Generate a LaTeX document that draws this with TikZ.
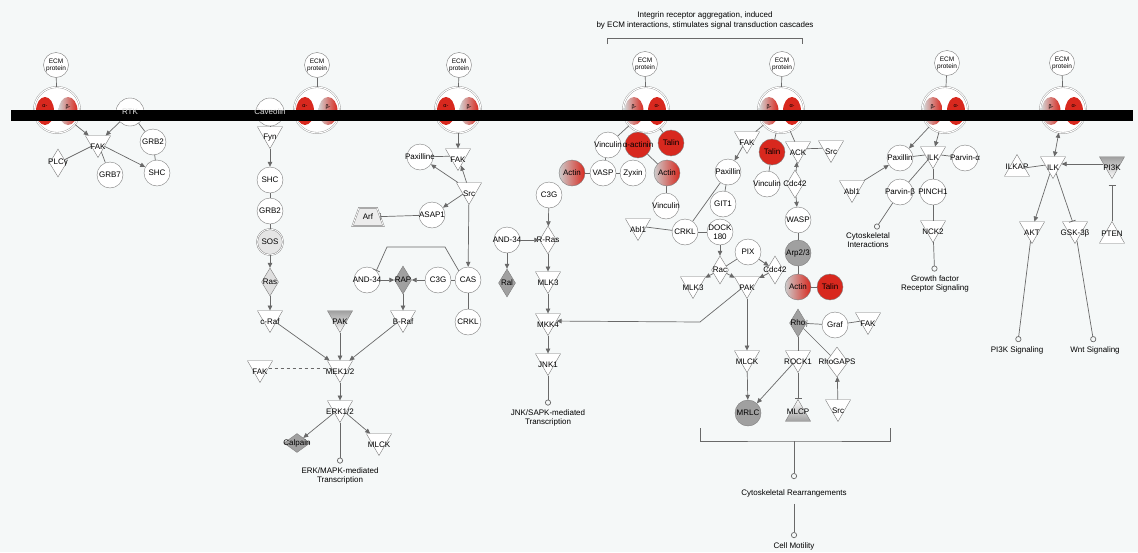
\documentclass[tikz,border=0pt]{standalone}
\usepackage{fontspec}
\setmainfont{Liberation Sans}
\usetikzlibrary{shapes.geometric,arrows.meta}
\definecolor{bgcol}{RGB}{245,248,248}
\definecolor{nodegray}{RGB}{125,125,125}
\definecolor{edgegray}{RGB}{105,105,105}
\definecolor{fillgray}{RGB}{160,160,160}
\definecolor{intred}{RGB}{216,40,30}
\tikzset{
  txt/.style={font=\fontsize{8}{9}\selectfont, inner sep=0pt, align=center},
  every label/.style={txt},
  prot/.style={circle, draw=nodegray, fill=white, minimum size=26pt, inner sep=0pt, label=center:#1},
  grayprot/.style={prot=#1, fill=fillgray},
  redprot/.style={prot=#1, fill=intred},
  mixprot/.style={prot=#1, left color=gray!40, right color=intred},
  memprot/.style={circle, draw=nodegray, fill=white, minimum size=28pt, inner sep=0pt},
  ecm/.style={circle, draw=nodegray, fill=white, minimum size=25pt, inner sep=0pt, font=\fontsize{6.5}{7}\selectfont, align=center},
  cplx/.style={circle, draw=nodegray!80, double=white, double distance=1pt, fill=white, minimum size=46pt, inner sep=0pt},
  alphaint/.style={ellipse, fill=intred, minimum width=18pt, minimum height=28pt, inner sep=0pt},
  betaint/.style={ellipse, left color=gray!35, right color=intred, minimum width=19pt, minimum height=28pt, inner sep=0pt},
  inttxt/.style={font=\fontsize{5.5}{8}\selectfont, inner sep=0pt, align=center},
  kinase/.style={regular polygon, regular polygon sides=3, shape border rotate=180, draw=nodegray, fill=white, minimum size=29pt, inner sep=0pt, label={[yshift=-4pt]center:#1}},
  upkin/.style={regular polygon, regular polygon sides=3, draw=nodegray, fill=white, minimum size=29pt, inner sep=0pt, label={[yshift=2pt]center:#1}},
  gtpase/.style={diamond, draw=nodegray, fill=white, minimum width=17pt, minimum height=28pt, inner sep=0pt, label=center:#1},
  transp/.style={trapezium, trapezium left angle=70, trapezium right angle=70, draw=nodegray, double=white, double distance=0.8pt, fill=gray!15, minimum width=22pt, minimum height=18pt, inner sep=2pt, label=center:#1},
  bond/.style={draw=edgegray, line width=0.7pt},
  act/.style={bond, -{Triangle[length=5pt,width=4.5pt]}},
  dual/.style={bond, {Triangle[length=5pt,width=4.5pt]}-{Triangle[length=5pt,width=4.5pt]}},
  inhib/.style={bond, -{Bar[width=7pt]}},
  leads/.style={bond, -{Circle[open,length=6pt,width=6pt]}, shorten >=4pt},
}
\begin{document}
\begin{tikzpicture}[x=1pt, y=-1pt]
    \fill[bgcol] (0,0) rectangle (1138,552);
    \useasboundingbox (0,0) rectangle (1138,552);

    \node[txt, font=\fontsize{8}{10}\selectfont] (header) at (705,20) {Integrin receptor aggregation, induced\\by ECM interactions, stimulates signal transduction cascades};
    \coordinate (hbl) at (607,44);
    \coordinate (hbr) at (802,44);
    \draw[bond] (hbl) -- ++(0,-6) -| (hbr);

    \node[ecm] (ecm1) at (56,65) {ECM\\protein};
    \node[ecm] (ecm2) at (317,65) {ECM\\protein};
    \node[ecm] (ecm3) at (459,65) {ECM\\protein};
    \node[ecm] (ecm4) at (645,64) {ECM\\protein};
    \node[ecm] (ecm5) at (782,64) {ECM\\protein};
    \node[ecm] (ecm6) at (947,63) {ECM\\protein};
    \node[ecm] (ecm7) at (1062,63) {ECM\\protein};

    \node[cplx] (int1) at (57,110) {};
    \node[cplx] (int2) at (317,110) {};
    \node[cplx] (int3) at (458,110) {};
    \node[cplx] (int4) at (646,110) {};
    \node[cplx] (int5) at (781,110) {};
    \node[cplx] (int6) at (945,110) {};
    \node[cplx] (int7) at (1063,110) {};
    \node[alphaint] (int1a) at (45,111) {};
    \node[betaint] (int1b) at (68,111) {};
    \node[alphaint] (int2a) at (305,111) {};
    \node[betaint] (int2b) at (328,111) {};
    \node[alphaint] (int3a) at (446,111) {};
    \node[betaint] (int3b) at (469,111) {};
    \node[betaint] (int4b) at (634,111) {};
    \node[alphaint] (int4a) at (657,111) {};
    \node[betaint] (int5b) at (769,111) {};
    \node[alphaint] (int5a) at (792,111) {};
    \node[betaint] (int6b) at (933,111) {};
    \node[alphaint] (int6a) at (956,111) {};
    \node[betaint] (int7b) at (1051,111) {};
    \node[alphaint] (int7a) at (1074,111) {};
    \draw[bond] (ecm1) -- (int1);
    \draw[bond] (ecm2) -- (int2);
    \draw[bond] (ecm3) -- (int3);
    \draw[bond] (ecm4) -- (int4);
    \draw[bond] (ecm5) -- (int5);
    \draw[bond] (ecm6) -- (int6);
    \draw[bond] (ecm7) -- (int7);

    \node[memprot] (rtk) at (130,112) {};
    \node[memprot] (cav) at (270,112) {};

    \fill[black] (11,109.5) rectangle (1133,120.5);

    \node[inttxt] (int1at) at (int1a) {α-\\integrin};
    \node[inttxt] (int1bt) at (int1b) {β-\\integrin};
    \node[inttxt] (int2at) at (int2a) {α-\\integrin};
    \node[inttxt] (int2bt) at (int2b) {β-\\integrin};
    \node[inttxt] (int3at) at (int3a) {α-\\integrin};
    \node[inttxt] (int3bt) at (int3b) {β-\\integrin};
    \node[inttxt] (int4bt) at (int4b) {β-\\integrin};
    \node[inttxt] (int4at) at (int4a) {α-\\integrin};
    \node[inttxt] (int5bt) at (int5b) {β-\\integrin};
    \node[inttxt] (int5at) at (int5a) {α-\\integrin};
    \node[inttxt] (int6bt) at (int6b) {β-\\integrin};
    \node[inttxt] (int6at) at (int6a) {α-\\integrin};
    \node[inttxt] (int7bt) at (int7b) {β-\\integrin};
    \node[inttxt] (int7at) at (int7a) {α-\\integrin};
    \node[txt, text=gray!25] (rtkt) at (rtk) {RTK};
    \node[txt, text=gray!25] (cavt) at (cav) {Caveolin};

    \node[kinase=FAK] (fak1) at (98,143) {};
    \node[gtpase=PLCγ] (plcg) at (58,163) {};
    \node[prot=GRB2] (grb2a) at (153,142) {};
    \node[prot=SHC] (shc1) at (157,173) {};
    \node[prot=GRB7] (grb7) at (110,175) {};

    \node[kinase=Fyn] (fyn) at (270,134) {};
    \node[prot=SHC] (shc2) at (270,180) {};
    \node[prot=GRB2] (grb2b) at (270,211) {};
    \node[prot=SOS, fill=gray!20, double=white, double distance=0.8pt] (sos) at (270,242) {};
    \node[gtpase=Ras, fill=gray!25] (ras) at (270,282) {};
    \node[kinase=c-Raf] (craf) at (270,318) {};
    \node[kinase=FAK] (fak2) at (260,368) {};
    \node[kinase=MEK1/2] (mek) at (340,368) {};
    \node[kinase=PAK, top color=fillgray, bottom color=white] (pak1) at (340,318) {};
    \node[kinase=B-Raf] (braf) at (403,318) {};
    \node[kinase=ERK1/2] (erk) at (340,408) {};
    \node[gtpase=Calpain, fill=fillgray, minimum width=26pt, minimum height=19pt] (calpain) at (297,443) {};
    \node[kinase=MLCK] (mlck1) at (379,441) {};
    \node[txt] (erktxt) at (340,476) {ERK/MAPK-mediated\\Transcription};

    \node[kinase=FAK] (fak3) at (458,156) {};
    \node[prot=Paxilline] (pax1) at (420,157) {};
    \node[kinase=Src] (src1) at (469,190) {};
    \node[prot=ASAP1] (asap) at (432,215) {};
    \node[transp=Arf] (arf) at (368,217) {};
    \node[prot=CAS] (cas) at (468,280) {};
    \node[prot=C3G] (c3g1) at (438,280) {};
    \node[gtpase=RAP, fill=fillgray] (rap) at (403,280) {};
    \node[prot=AND-34] (and1) at (367,280) {};
    \node[prot=CRKL] (crkl1) at (468,322) {};
    \coordinate (casup) at (445,247);
    \coordinate (casleft) at (387,247);

    \node[prot=C3G] (c3g2) at (549,195) {};
    \node[gtpase=R-Ras] (rras) at (548,240) {};
    \node[prot=AND-34] (and2) at (507,240) {};
    \node[gtpase=Ral, fill=fillgray] (ral) at (507,283) {};
    \node[kinase=MLK3] (mlk3a) at (548,279) {};
    \node[kinase=MKK4] (mkk4) at (548,321) {};
    \node[kinase=JNK1] (jnk1) at (548,361) {};
    \node[txt] (jnktxt) at (548,418) {JNK/SAPK-mediated\\Transcription};

    \node[prot=Vinculin] (vinc1) at (608,145) {};
    \node[redprot=α-actinin] (actn) at (638,145) {};
    \node[redprot=Talin] (talin1) at (671,143) {};
    \node[mixprot=Actin] (actin1) at (572,173) {};
    \node[prot=VASP] (vasp) at (603,173) {};
    \node[prot=Zyxin] (zyx) at (633,173) {};
    \node[mixprot=Actin] (actin2) at (667,173) {};
    \node[prot=Vinculin] (vinc2) at (666,206) {};

    \node[kinase=FAK] (fak4) at (747,139) {};
    \node[redprot=Talin] (talin2) at (772,152) {};
    \node[kinase=ACK] (ack) at (798,149) {};
    \node[kinase=Src] (src2) at (831,148) {};
    \node[prot=Paxillin] (pax2) at (728,172) {};
    \node[prot=Vinculin] (vinc3) at (767,184) {};
    \node[gtpase=Cdc42] (cdc42a) at (795,184) {};
    \node[prot=WASP] (wasp) at (798,220) {};
    \node[grayprot=Arp2/3] (arp) at (798,253) {};
    \node[mixprot=Actin] (actin3) at (798,287) {};
    \node[redprot=Talin] (talin3) at (830,287) {};
    \node[prot=GIT1] (git1) at (723,204) {};
    \node[kinase=Abl1] (abl1a) at (638,226) {};
    \node[prot=CRKL] (crkl2) at (685,232) {};
    \node[prot=DOCK\\180] (dock) at (720,232) {};
    \node[prot=PIX] (pix) at (748,252) {};
    \node[gtpase=Rac] (rac) at (720,270) {};
    \node[gtpase=Cdc42] (cdc42b) at (775,270) {};
    \node[kinase=MLK3] (mlk3b) at (693,284) {};
    \node[kinase=PAK] (pak2) at (747,284) {};
    \coordinate (pakbend) at (700,322);
    \node[gtpase=Rho, fill=fillgray] (rho) at (798,323) {};
    \node[prot=Graf] (graf) at (835,325) {};
    \node[kinase=FAK] (fak5) at (868,320) {};
    \node[kinase=MLCK] (mlck2) at (747,358) {};
    \node[kinase=ROCK1] (rock1) at (798,358) {};
    \node[gtpase=RhoGAPS, minimum width=22pt, minimum height=30pt] (rhogap) at (837,362) {};
    \node[grayprot=MRLC] (mrlc) at (748,413) {};
    \node[upkin=MLCP, top color=white, bottom color=fillgray] (mlcp) at (798,414) {};
    \node[kinase=Src] (src3) at (838,407) {};
    \coordinate (brl) at (700,428);
    \coordinate (brr) at (890,428);
    \coordinate (brm) at (794,441);
    \node[txt] (cytorearr) at (794,493) {Cytoskeletal Rearrangements};
    \node[txt] (cellmot) at (794,546) {Cell Motility};

    \node[prot=Paxillin] (pax3) at (900,158) {};
    \node[kinase=ILK] (ilk1) at (933,154) {};
    \node[prot=Parvin-α] (parva) at (965,158) {};
    \node[kinase=Abl1] (abl1b) at (852,188) {};
    \node[prot=Parvin-β] (parvb) at (900,192) {};
    \node[prot=PINCH1] (pinch) at (933,192) {};
    \node[kinase=NCK2] (nck2) at (933,228) {};
    \node[txt] (cytoint) at (868,240) {Cytoskeletal\\Interactions};
    \node[txt] (gftxt) at (935,284) {Growth factor\\Receptor Signaling};

    \node[upkin=ILKAP] (ilkap) at (1017,169) {};
    \node[kinase=ILK] (ilk2) at (1053,164) {};
    \node[kinase=PI3K, top color=fillgray, bottom color=white] (pi3k) at (1112,164) {};
    \node[kinase=AKT] (akt) at (1032,229) {};
    \node[kinase=GSK-3β] (gsk) at (1075,229) {};
    \node[upkin=PTEN] (pten) at (1112,236) {};
    \node[txt] (pi3ktxt) at (1017,350) {PI3K Signaling};
    \node[txt] (wnttxt) at (1095,350) {Wnt Signaling};

    \draw[act] (int1) -- (fak1);
    \draw[act] (rtk) -- (fak1);
    \draw[bond] (rtk) -- (grb2a);
    \draw[bond] (fak1) -- (plcg);
    \draw[bond] (fak1) -- (grb7);
    \draw[act] (fak1) -- (shc1);
    \draw[bond] (grb2a) -- (shc1);

    \draw[bond] (cav) -- (fyn);
    \draw[act] (fyn) -- (shc2);
    \draw[bond] (shc2) -- (grb2b);
    \draw[bond] (grb2b) -- (sos);
    \draw[act] (sos) -- (ras);
    \draw[act] (ras) -- (craf);
    \draw[act] (craf) -- (mek);
    \draw[act] (pak1) -- (mek);
    \draw[act] (braf) -- (mek);
    \draw[bond, dashed] (fak2) -- (mek);
    \draw[act] (mek) -- (erk);
    \draw[act] (erk) -- (calpain);
    \draw[act] (erk) -- (mlck1);
    \draw[leads] (erk) -- (erktxt);

    \draw[act] (int3) -- (fak3);
    \draw[bond] (pax1) -- (fak3);
    \draw[act] (src1) -- (fak3);
    \draw[act] (src1) -- (pax1);
    \draw[act] (src1) -- (asap);
    \draw[inhib] (asap) -- (arf);
    \draw[act] (src1) -- (cas);
    \draw[bond] (cas) -- (c3g1);
    \draw[act] (c3g1) -- (rap);
    \draw[act] (and1) -- (rap);
    \draw[act] (rap) -- (braf);
    \draw[bond] (cas) -- (crkl1);
    \draw[inhib] (cas.north west) -- (casup) -- (casleft) -- (and1.north east);

    \draw[act] (c3g2) -- (rras);
    \draw[act] (and2) -- (rras);
    \draw[act] (and2) -- (ral);
    \draw[act] (rras) -- (mlk3a);
    \draw[act] (mlk3a) -- (mkk4);
    \draw[act] (mkk4) -- (jnk1);
    \draw[leads] (jnk1) -- (jnktxt);
    \draw[act] (pak2) -- (pakbend) -- (mkk4);

    \draw[bond] (int4) -- (vinc1);
    \draw[bond] (int4) -- (talin1);
    \draw[bond] (vinc1) -- (vasp);
    \draw[bond] (actin1) -- (vasp);
    \draw[bond] (vasp) -- (zyx);
    \draw[bond] (actn) -- (actin2);
    \draw[bond] (actin2) -- (vinc2);

    \draw[bond] (int5) -- (fak4);
    \draw[bond] (int5) -- (talin2);
    \draw[bond] (int5) -- (ack);
    \draw[act] (fak4) -- (pax2);
    \draw[bond] (talin2) -- (vinc3);
    \draw[bond] (ack) -- (src2);
    \draw[act] (cdc42a) -- (ack);
    \draw[act] (cdc42a) -- (wasp);
    \draw[bond] (wasp) -- (arp);
    \draw[bond] (arp) -- (actin3);
    \draw[bond] (actin3) -- (talin3);
    \draw[bond] (pax2) -- (git1);
    \draw[bond] (pax2) -- (crkl2);
    \draw[bond] (abl1a) -- (crkl2);
    \draw[bond] (crkl2) -- (dock);
    \draw[act] (dock) -- (rac);
    \draw[bond] (pix) -- (rac);
    \draw[act] (pix) -- (cdc42b);
    \draw[act] (rac) -- (mlk3b);
    \draw[act] (rac) -- (pak2);
    \draw[act] (cdc42b) -- (pak2);
    \draw[act] (pak2) -- (mlck2);
    \draw[act] (mlck2) -- (mrlc);
    \draw[act] (rock1) -- (mrlc);
    \draw[inhib] (rock1) -- (mlcp);
    \draw[bond] (rho) -- (rock1);
    \draw[inhib] (graf) -- (rho);
    \draw[bond] (rhogap) -- (rho);
    \draw[act] (src3) -- (rhogap);
    \draw[bond] (graf) -- (fak5);
    \draw[bond] (brl) |- (brm) -| (brr);
    \draw[leads, shorten >=10pt] (brm) -- (cytorearr);
    \draw[leads, shorten <=7pt] (cytorearr) -- (cellmot);

    \draw[act] (int6) -- (pax3);
    \draw[act] (int6) -- (ilk1);
    \draw[bond] (pax3) -- (ilk1);
    \draw[bond] (ilk1) -- (parva);
    \draw[act] (abl1b) -- (pax3);
    \draw[bond] (ilk1) -- (parvb);
    \draw[bond] (ilk1) -- (pinch);
    \draw[leads] (parvb) -- (cytoint);
    \draw[bond] (pinch) -- (nck2);
    \draw[leads] (nck2) -- (gftxt);

    \draw[dual] (int7) -- (ilk2);
    \draw[bond] (ilkap) -- (ilk2);
    \draw[act] (pi3k) -- (ilk2);
    \draw[inhib, shorten >=6pt] (pten) -- (pi3k);
    \draw[act] (ilk2) -- (akt);
    \draw[inhib] (ilk2) -- (gsk);
    \draw[leads] (akt) -- (pi3ktxt);
    \draw[leads] (gsk) -- (wnttxt);
\end{tikzpicture}
\end{document}
